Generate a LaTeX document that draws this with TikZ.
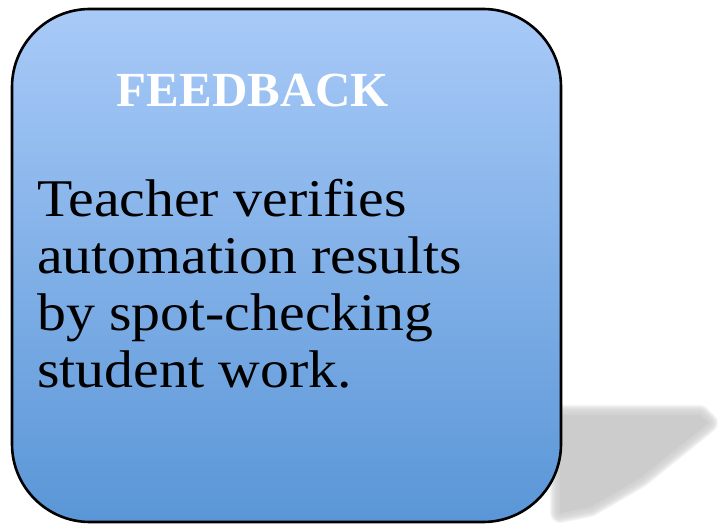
\documentclass[tikz,border=0pt]{standalone}
\usepackage{fontspec}
\setmainfont{Liberation Serif}
\usepackage{xcolor}
\usepackage{tikz}
\definecolor{boxtop}{HTML}{A8CAF8}
\definecolor{boxbot}{HTML}{5A96D7}
\definecolor{shadowgray}{HTML}{CCCCCC}
\tikzset{
  card/.style={draw=black, line width=2.6pt, rounded corners=78pt,
    top color=boxtop, bottom color=boxbot, inner sep=0pt},
  blur/.style={draw=shadowgray, line join=round, opacity=0.2},
  title/.style={text=white, font=\fontsize{49}{55}\selectfont\bfseries, inner sep=0pt},
  bodytxt/.style={text=black, font=\fontsize{53}{57}\selectfont\addfontfeature{FakeStretch=1.09}, inner sep=0pt},
}

\begin{document}
\begin{tikzpicture}[x=1pt,y=1pt]
  \useasboundingbox (0,0) rectangle (719,527);

  % shadow on the floor
  \def\shadowpath{(560,112) -- (700,112) -- (708,104) -- (640,49) -- (590,20) -- (560,14) -- cycle}
  \foreach \w in {20,18,...,2}
    \draw[blur, line width=\w pt] \shadowpath;
  \fill[shadowgray] \shadowpath;

  % the card
  \node[card, minimum width=549pt, minimum height=513pt] (card) at (286.5,261.5) {};
  \node[title, anchor=base] (head) at (253,420) {FEEDBACK};

  \foreach \txt [count=\i] in {Teacher verifies, automation results,
      by spot-checking, student work.}
    \node[bodytxt, anchor=base west] (line\i) at (37,{310-57*(\i-1)}) {\txt};
\end{tikzpicture}
\end{document}
